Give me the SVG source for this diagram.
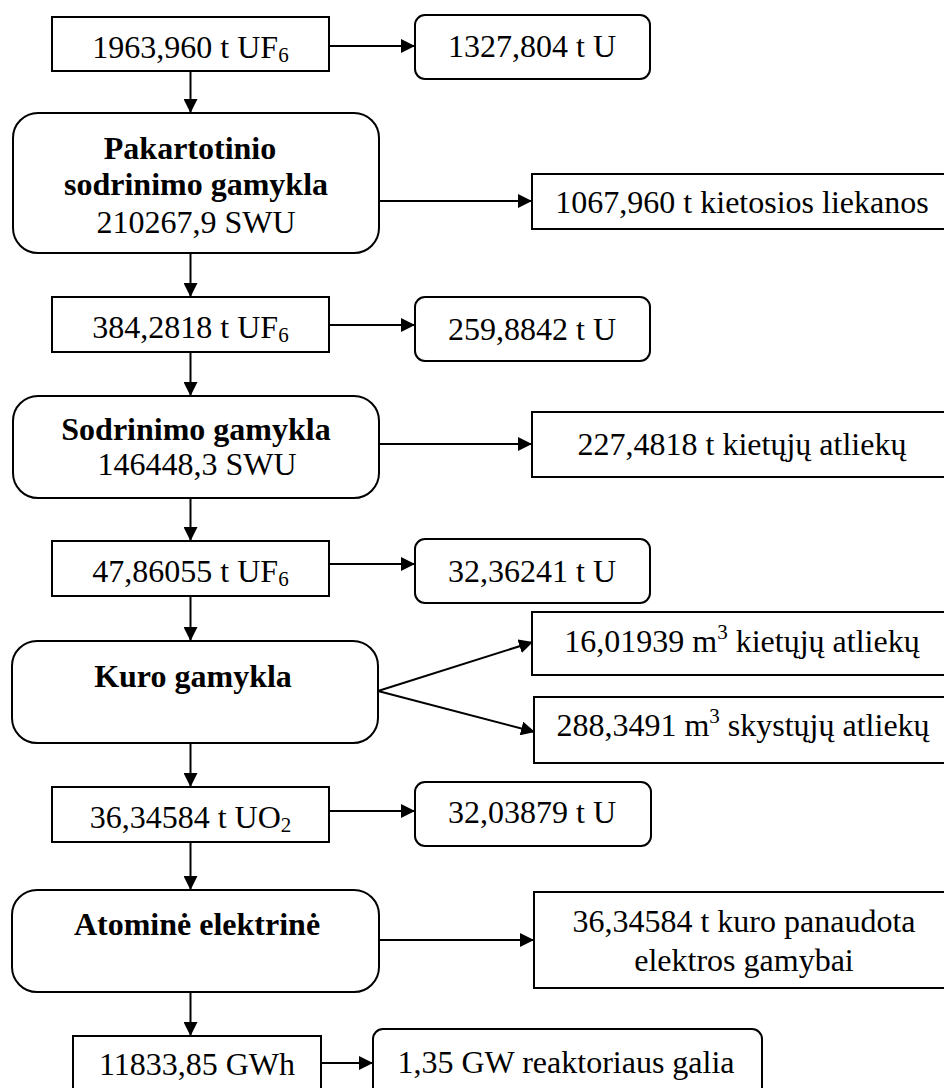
<svg xmlns="http://www.w3.org/2000/svg" width="944" height="1088" viewBox="0 0 944 1088">
<style>
.box{fill:#fff;stroke:#000;stroke-width:2}
.t{font-family:"Liberation Serif","Times New Roman",serif;font-size:32px;fill:#000;text-anchor:middle}
.b{font-weight:bold}
.c{fill:none;stroke:#000;stroke-width:2}
.sub{font-size:21px}
</style>
<defs>
<marker id="ah" markerWidth="14" markerHeight="14" refX="14" refY="7" orient="auto" markerUnits="userSpaceOnUse">
<path d="M0,0 L14,7 L0,14 Z" fill="#000"/>
</marker>
</defs>
<rect width="944" height="1088" fill="#fff"/>
<g id="connectors">
<line class="c" x1="329" y1="46" x2="415" y2="46" marker-end="url(#ah)"/>
<line class="c" x1="190.5" y1="71" x2="190.5" y2="113" marker-end="url(#ah)"/>
<line class="c" x1="379" y1="201" x2="532" y2="201" marker-end="url(#ah)"/>
<line class="c" x1="190.5" y1="253" x2="190.5" y2="297" marker-end="url(#ah)"/>
<line class="c" x1="329" y1="325" x2="415" y2="325" marker-end="url(#ah)"/>
<line class="c" x1="190.5" y1="352" x2="190.5" y2="396" marker-end="url(#ah)"/>
<line class="c" x1="379" y1="444" x2="532" y2="444" marker-end="url(#ah)"/>
<line class="c" x1="190.5" y1="498" x2="190.5" y2="541" marker-end="url(#ah)"/>
<line class="c" x1="329" y1="564" x2="415" y2="564" marker-end="url(#ah)"/>
<line class="c" x1="190.5" y1="596" x2="190.5" y2="641" marker-end="url(#ah)"/>
<line class="c" x1="378" y1="691" x2="533" y2="642" marker-end="url(#ah)"/>
<line class="c" x1="378" y1="691" x2="535" y2="732" marker-end="url(#ah)"/>
<line class="c" x1="190.5" y1="743" x2="190.5" y2="787" marker-end="url(#ah)"/>
<line class="c" x1="329" y1="811" x2="415" y2="811" marker-end="url(#ah)"/>
<line class="c" x1="190.5" y1="842" x2="190.5" y2="890" marker-end="url(#ah)"/>
<line class="c" x1="379" y1="940" x2="534" y2="940" marker-end="url(#ah)"/>
<line class="c" x1="190.5" y1="992" x2="190.5" y2="1036" marker-end="url(#ah)"/>
<line class="c" x1="321" y1="1063" x2="373" y2="1063" marker-end="url(#ah)"/>
</g>
<g id="n1"><rect class="box" x="52" y="17" width="277" height="54"/><text class="t" x="190.5" y="58">1963,960 t UF<tspan class="sub" dy="4">6</tspan></text></g>
<g id="n2"><rect class="box" x="415" y="15" width="235" height="64" rx="10"/><text class="t" x="532" y="57">1327,804 t U</text></g>
<g id="n3"><rect class="box" x="13" y="113" width="366" height="140" rx="25"/><text class="t b" x="190" y="159">Pakartotinio</text><text class="t b" x="196" y="195">sodrinimo gamykla</text><text class="t" x="196" y="233">210267,9 SWU</text></g>
<g id="n4"><rect class="box" x="532" y="174" width="420" height="55"/><text class="t" x="742" y="213">1067,960 t kietosios liekanos</text></g>
<g id="n5"><rect class="box" x="52" y="297" width="277" height="55"/><text class="t" x="190.5" y="338">384,2818 t UF<tspan class="sub" dy="4">6</tspan></text></g>
<g id="n6"><rect class="box" x="415" y="297" width="235" height="64" rx="10"/><text class="t" x="532" y="340">259,8842 t U</text></g>
<g id="n7"><rect class="box" x="13" y="396" width="366" height="102" rx="25"/><text class="t b" x="196" y="440">Sodrinimo gamykla</text><text class="t" x="197" y="475">146448,3 SWU</text></g>
<g id="n8"><rect class="box" x="532" y="412" width="420" height="65"/><text class="t" x="742" y="455">227,4818 t kietųjų atliekų</text></g>
<g id="n9"><rect class="box" x="52" y="541" width="277" height="55"/><text class="t" x="190.5" y="582">47,86055 t UF<tspan class="sub" dy="4">6</tspan></text></g>
<g id="n10"><rect class="box" x="415" y="539" width="235" height="64" rx="10"/><text class="t" x="532" y="582">32,36241 t U</text></g>
<g id="n11"><rect class="box" x="12" y="641" width="366" height="102" rx="25"/><text class="t b" x="193" y="687">Kuro gamykla</text></g>
<g id="n12"><rect class="box" x="532" y="612" width="420" height="63"/><text class="t" x="742" y="652">16,01939 m<tspan class="sub" dy="-13">3</tspan><tspan dy="13"> kietųjų atliekų</tspan></text></g>
<g id="n13"><rect class="box" x="534" y="697" width="420" height="66"/><text class="t" x="743" y="736">288,3491 m<tspan class="sub" dy="-13">3</tspan><tspan dy="13"> skystųjų atliekų</tspan></text></g>
<g id="n14"><rect class="box" x="52" y="787" width="277" height="55"/><text class="t" x="190.5" y="828">36,34584 t UO<tspan class="sub" dy="4">2</tspan></text></g>
<g id="n15"><rect class="box" x="415" y="782" width="236" height="64" rx="10"/><text class="t" x="532" y="823">32,03879 t U</text></g>
<g id="n16"><rect class="box" x="12" y="890" width="367" height="102" rx="25"/><text class="t b" x="197" y="935">Atominė elektrinė</text></g>
<g id="n17"><rect class="box" x="534" y="892" width="420" height="96"/><text class="t" x="744" y="932">36,34584 t kuro panaudota</text><text class="t" x="744" y="971">elektros gamybai</text></g>
<g id="n18"><rect class="box" x="73" y="1036" width="248" height="70"/><text class="t" x="197" y="1075">11833,85 GWh</text></g>
<g id="n19"><rect class="box" x="373" y="1029" width="389" height="70" rx="10"/><text class="t" x="566" y="1073">1,35 GW reaktoriaus galia</text></g>
</svg>
